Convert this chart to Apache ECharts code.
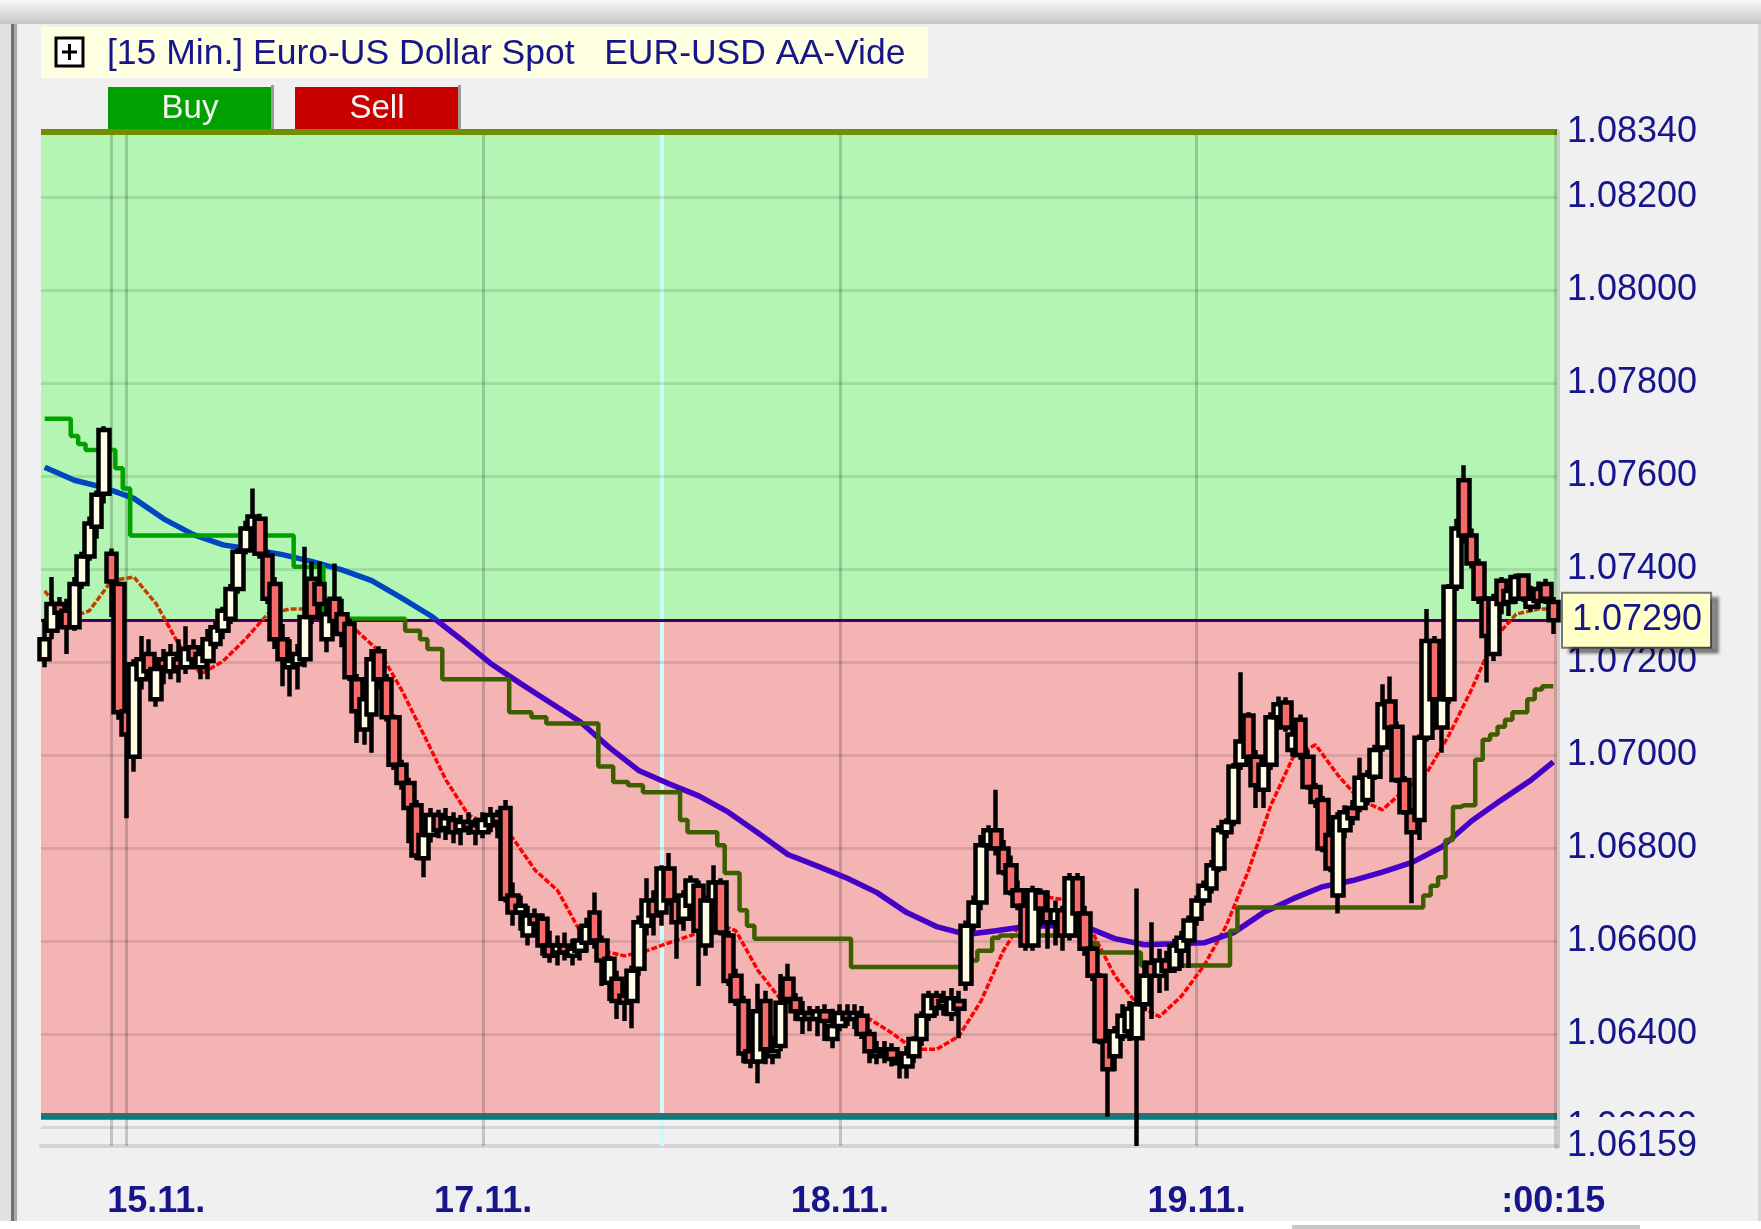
<!DOCTYPE html>
<html>
<head>
<meta charset="utf-8">
<title>[15 Min.] Euro-US Dollar Spot</title>
<script src="https://cdn.jsdelivr.net/npm/echarts@6/dist/echarts.min.js"></script>
<style>
  html, body { margin: 0; padding: 0; background: #f0f0f0; }
  #chart { width: 1761px; height: 1229px; }
</style>
</head>
<body>
<div id="chart"></div>
<script>
// one row per bar: [open, close, low, high]
const candles = [
  [1.07206,1.07249,1.07189,1.07293],[1.07267,1.07325,1.07249,1.07383],[1.07325,1.07306,1.07271,1.07340],[1.07310,1.07275,1.07217,1.07336],[1.07275,1.07368,1.07267,1.07383],
  [1.07368,1.07427,1.07357,1.07437],[1.07427,1.07498,1.07418,1.07513],[1.07491,1.07560,1.07465,1.07569],[1.07562,1.07699,1.07541,1.07707],[1.07433,1.07373,1.07297,1.07444],
  [1.07368,1.07092,1.07076,1.07373],[1.07094,1.07044,1.06864,1.07109],[1.06996,1.07195,1.06964,1.07206],[1.07163,1.07206,1.07141,1.07256],[1.07217,1.07180,1.07163,1.07249],
  [1.07120,1.07185,1.07104,1.07195],[1.07206,1.07189,1.07152,1.07228],[1.07180,1.07217,1.07163,1.07239],[1.07206,1.07189,1.07156,1.07249],[1.07189,1.07228,1.07174,1.07277],
  [1.07232,1.07206,1.07189,1.07249],[1.07189,1.07217,1.07163,1.07232],[1.07202,1.07249,1.07163,1.07271],[1.07239,1.07275,1.07228,1.07288],[1.07267,1.07310,1.07249,1.07319],
  [1.07293,1.07357,1.07282,1.07368],[1.07357,1.07437,1.07347,1.07444],[1.07440,1.07487,1.07431,1.07504],[1.07487,1.07513,1.07465,1.07573],[1.07508,1.07433,1.07422,1.07519],
  [1.07429,1.07336,1.07325,1.07440],[1.07368,1.07249,1.07228,1.07383],[1.07249,1.07206,1.07148,1.07282],[1.07189,1.07202,1.07126,1.07249],[1.07195,1.07217,1.07141,1.07239],
  [1.07206,1.07297,1.07189,1.07448],[1.07379,1.07297,1.07282,1.07416],[1.07368,1.07325,1.07303,1.07416],[1.07249,1.07303,1.07221,1.07336],[1.07336,1.07288,1.07275,1.07412],
  [1.07303,1.07260,1.07232,1.07336],[1.07282,1.07167,1.07159,1.07293],[1.07163,1.07094,1.07026,1.07174],[1.07055,1.07120,1.07022,1.07141],[1.07087,1.07206,1.07005,1.07228],
  [1.07223,1.07163,1.07141,1.07234],[1.07163,1.07081,1.07072,1.07174],[1.07081,1.06979,1.06968,1.07087],[1.06979,1.06940,1.06925,1.06990],[1.06940,1.06886,1.06810,1.06951],
  [1.06892,1.06784,1.06774,1.06903],[1.06778,1.06828,1.06737,1.06838],[1.06828,1.06871,1.06812,1.06886],[1.06871,1.06838,1.06821,1.06882],[1.06843,1.06864,1.06817,1.06886],
  [1.06860,1.06834,1.06810,1.06877],[1.06838,1.06856,1.06806,1.06871],[1.06856,1.06843,1.06828,1.06877],[1.06849,1.06834,1.06806,1.06864],[1.06834,1.06860,1.06821,1.06877],
  [1.06849,1.06871,1.06834,1.06888],[1.06871,1.06856,1.06821,1.06882],[1.06886,1.06691,1.06683,1.06903],[1.06698,1.06661,1.06633,1.06726],[1.06661,1.06676,1.06622,1.06698],
  [1.06612,1.06655,1.06590,1.06676],[1.06655,1.06637,1.06612,1.06670],[1.06648,1.06590,1.06568,1.06659],[1.06590,1.06568,1.06553,1.06622],[1.06575,1.06590,1.06547,1.06612],
  [1.06590,1.06575,1.06558,1.06618],[1.06568,1.06583,1.06547,1.06605],[1.06579,1.06601,1.06558,1.06633],[1.06596,1.06633,1.06575,1.06650],[1.06661,1.06601,1.06583,1.06704],
  [1.06601,1.06558,1.06503,1.06612],[1.06510,1.06562,1.06471,1.06568],[1.06519,1.06471,1.06432,1.06536],[1.06482,1.06467,1.06428,1.06503],[1.06471,1.06536,1.06412,1.06547],
  [1.06540,1.06640,1.06525,1.06655],[1.06633,1.06687,1.06612,1.06735],[1.06687,1.06655,1.06612,1.06709],[1.06661,1.06756,1.06633,1.06763],[1.06756,1.06687,1.06676,1.06789],
  [1.06687,1.06640,1.06562,1.06698],[1.06648,1.06698,1.06622,1.06709],[1.06676,1.06730,1.06655,1.06741],[1.06719,1.06622,1.06503,1.06730],[1.06590,1.06687,1.06568,1.06698],
  [1.06687,1.06726,1.06666,1.06763],[1.06726,1.06618,1.06612,1.06735],[1.06612,1.06514,1.06503,1.06622],[1.06525,1.06471,1.06460,1.06540],[1.06471,1.06358,1.06337,1.06482],
  [1.06363,1.06341,1.06326,1.06385],[1.06341,1.06449,1.06294,1.06508],[1.06471,1.06367,1.06335,1.06493],[1.06352,1.06363,1.06335,1.06395],[1.06374,1.06467,1.06363,1.06529],
  [1.06519,1.06475,1.06464,1.06551],[1.06475,1.06449,1.06428,1.06488],[1.06432,1.06445,1.06400,1.06471],[1.06445,1.06432,1.06406,1.06460],[1.06432,1.06449,1.06395,1.06460],
  [1.06449,1.06428,1.06385,1.06464],[1.06389,1.06417,1.06369,1.06454],[1.06417,1.06445,1.06406,1.06464],[1.06445,1.06432,1.06417,1.06464],[1.06432,1.06445,1.06410,1.06464],
  [1.06439,1.06400,1.06389,1.06460],[1.06400,1.06363,1.06337,1.06410],[1.06363,1.06352,1.06335,1.06385],[1.06358,1.06367,1.06337,1.06385],[1.06367,1.06346,1.06330,1.06380],
  [1.06346,1.06337,1.06304,1.06363],[1.06330,1.06358,1.06304,1.06374],[1.06352,1.06389,1.06337,1.06395],[1.06389,1.06439,1.06374,1.06449],[1.06439,1.06482,1.06428,1.06493],
  [1.06482,1.06456,1.06439,1.06493],[1.06460,1.06471,1.06439,1.06493],[1.06443,1.06477,1.06428,1.06499],[1.06471,1.06454,1.06391,1.06493],[1.06508,1.06633,1.06493,1.06644],
  [1.06633,1.06683,1.06622,1.06698],[1.06683,1.06806,1.06666,1.06828],[1.06806,1.06838,1.06795,1.06849],[1.06838,1.06799,1.06784,1.06925],[1.06799,1.06748,1.06741,1.06817],
  [1.06763,1.06704,1.06698,1.06784],[1.06709,1.06676,1.06666,1.06730],[1.06676,1.06590,1.06579,1.06687],[1.06590,1.06709,1.06579,1.06719],[1.06704,1.06670,1.06633,1.06713],
  [1.06666,1.06640,1.06583,1.06709],[1.06640,1.06666,1.06590,1.06687],[1.06666,1.06612,1.06579,1.06676],[1.06612,1.06735,1.06601,1.06746],[1.06735,1.06659,1.06644,1.06746],
  [1.06659,1.06583,1.06568,1.06676],[1.06583,1.06525,1.06514,1.06590],[1.06525,1.06385,1.06378,1.06531],[1.06385,1.06324,1.06222,1.06395],[1.06352,1.06406,1.06320,1.06417],
  [1.06395,1.06439,1.06385,1.06464],[1.06406,1.06454,1.06385,1.06471],[1.06391,1.06464,1.06159,1.06713],[1.06464,1.06525,1.06449,1.06558],[1.06553,1.06525,1.06432,1.06640],
  [1.06525,1.06558,1.06488,1.06583],[1.06558,1.06536,1.06493,1.06579],[1.06540,1.06590,1.06531,1.06605],[1.06579,1.06607,1.06542,1.06622],[1.06601,1.06644,1.06542,1.06655],
  [1.06648,1.06687,1.06633,1.06698],[1.06687,1.06719,1.06676,1.06730],[1.06713,1.06763,1.06702,1.06774],[1.06756,1.06838,1.06748,1.06849],[1.06834,1.06856,1.06821,1.06864],
  [1.06856,1.06975,1.06847,1.06983],[1.06979,1.07029,1.06968,1.07178],[1.07085,1.06996,1.06990,1.07092],[1.06996,1.06935,1.06886,1.07011],[1.06925,1.06979,1.06886,1.06994],
  [1.06979,1.07081,1.06968,1.07092],[1.07081,1.07109,1.07072,1.07126],[1.07113,1.07059,1.07050,1.07124],[1.07011,1.07044,1.06996,1.07066],[1.07076,1.07000,1.06990,1.07087],
  [1.06996,1.06931,1.06925,1.07011],[1.06931,1.06899,1.06886,1.06940],[1.06903,1.06799,1.06791,1.06912],[1.06828,1.06756,1.06748,1.06838],[1.06698,1.06866,1.06659,1.06877],
  [1.06838,1.06877,1.06821,1.06892],[1.06886,1.06864,1.06849,1.06903],[1.06886,1.06951,1.06877,1.06994],[1.06903,1.06957,1.06892,1.06968],[1.06953,1.07011,1.06946,1.07022],
  [1.07016,1.07109,1.07007,1.07152],[1.07115,1.07059,1.07050,1.07169],[1.07061,1.06946,1.06940,1.07072],[1.06946,1.06877,1.06871,1.06955],[1.06877,1.06834,1.06681,1.06886],
  [1.06860,1.07037,1.06817,1.07044],[1.07037,1.07245,1.07029,1.07314],[1.07245,1.07120,1.07055,1.07256],[1.07059,1.07120,1.07005,1.07130],[1.07120,1.07362,1.07109,1.07368],
  [1.07362,1.07487,1.07353,1.07508],[1.07591,1.07472,1.07455,1.07623],[1.07472,1.07412,1.07401,1.07487],[1.07412,1.07336,1.07325,1.07422],[1.07336,1.07256,1.07156,1.07342],
  [1.07217,1.07336,1.07202,1.07347],[1.07375,1.07325,1.07303,1.07383],[1.07329,1.07353,1.07299,1.07368],[1.07336,1.07383,1.07325,1.07390],[1.07386,1.07336,1.07329,1.07390],
  [1.07319,1.07336,1.07308,1.07364],[1.07357,1.07331,1.07314,1.07373],[1.07368,1.07336,1.07325,1.07379],[1.07329,1.07290,1.07260,1.07340]
];

// slow moving average, [bar, value]
const maSlow = [
  [0,1.07619],[4,1.07591],[8,1.07575],[12,1.07552],[16,1.07508],[20,1.07474],[24,1.07452],[28,1.07442],[32,1.07431],[36,1.07416],
  [40,1.07398],[44,1.07375],[48,1.07338],[52,1.07299],[56,1.07249],[60,1.07197],[64,1.07154],[68,1.07113],[72,1.07072],[76,1.07016],
  [80,1.06966],[84,1.06938],[88,1.06912],[92,1.06877],[96,1.06832],[100,1.06786],[104,1.06761],[108,1.06735],[112,1.06704],[116,1.06661],
  [120,1.06631],[124,1.06614],[128,1.06622],[132,1.06631],[136,1.06633],[140,1.06631],[144,1.06605],[148,1.06592],[152,1.06594],[156,1.06596],
  [160,1.06618],[164,1.06661],[168,1.06691],[172,1.06717],[176,1.06730],[180,1.06748],[184,1.06769],[188,1.06802],[192,1.06858],[196,1.06903],
  [200,1.06946],[203,1.06985]
];

// fast moving average, [bar, value]
const maFast = [
  [0,1.07353],[3,1.07293],[6,1.07310],[9,1.07375],[12,1.07383],[15,1.07325],[18,1.07239],[21,1.07174],[24,1.07202],[27,1.07249],
  [30,1.07303],[33,1.07314],[36,1.07314],[39,1.07306],[42,1.07267],[45,1.07223],[48,1.07141],[51,1.07044],[54,1.06946],[57,1.06871],
  [60,1.06849],[63,1.06821],[66,1.06752],[69,1.06709],[72,1.06622],[75,1.06579],[78,1.06568],[81,1.06579],[84,1.06596],[87,1.06612],
  [90,1.06640],[93,1.06622],[96,1.06536],[99,1.06475],[102,1.06445],[105,1.06439],[108,1.06437],[111,1.06432],[114,1.06402],[117,1.06367],
  [120,1.06367],[123,1.06395],[126,1.06471],[129,1.06579],[132,1.06655],[135,1.06694],[138,1.06687],[141,1.06618],[144,1.06525],[147,1.06464],
  [150,1.06437],[153,1.06482],[156,1.06547],[159,1.06633],[162,1.06752],[165,1.06892],[168,1.06996],[171,1.07022],[174,1.06957],[177,1.06903],
  [180,1.06882],[183,1.06925],[186,1.06962],[189,1.07044],[192,1.07141],[195,1.07249],[198,1.07303],[201,1.07314],[203,1.07314]
];

// trailing stop, one value per bar
const stopLine = [
  1.07723,1.07723,1.07723,1.07723,1.07686,1.07669,1.07656,1.07656,1.07656,1.07656,
  1.07617,1.07573,1.07472,1.07472,1.07472,1.07472,1.07472,1.07472,1.07472,1.07472,
  1.07472,1.07472,1.07472,1.07472,1.07472,1.07472,1.07472,1.07472,1.07472,1.07472,
  1.07472,1.07472,1.07472,1.07472,1.07405,1.07405,1.07405,1.07405,1.07293,1.07293,
  1.07293,1.07293,1.07293,1.07293,1.07293,1.07293,1.07293,1.07293,1.07293,1.07267,
  1.07267,1.07249,1.07228,1.07228,1.07163,1.07163,1.07163,1.07163,1.07163,1.07163,
  1.07163,1.07163,1.07163,1.07092,1.07092,1.07092,1.07081,1.07081,1.07068,1.07068,
  1.07068,1.07068,1.07068,1.07068,1.07068,1.06975,1.06975,1.06942,1.06942,1.06935,
  1.06935,1.06920,1.06920,1.06920,1.06920,1.06920,1.06860,1.06834,1.06834,1.06834,
  1.06834,1.06806,1.06746,1.06746,1.06666,1.06633,1.06605,1.06605,1.06605,1.06605,
  1.06605,1.06605,1.06605,1.06605,1.06605,1.06605,1.06605,1.06605,1.06605,1.06544,
  1.06544,1.06544,1.06544,1.06544,1.06544,1.06544,1.06544,1.06544,1.06544,1.06544,
  1.06544,1.06544,1.06544,1.06544,1.06544,1.06558,1.06579,1.06579,1.06607,1.06612,
  1.06612,1.06612,1.06612,1.06612,1.06612,1.06612,1.06612,1.06612,1.06612,1.06612,
  1.06612,1.06596,1.06575,1.06575,1.06575,1.06575,1.06575,1.06575,1.06547,1.06547,
  1.06547,1.06547,1.06547,1.06547,1.06547,1.06547,1.06547,1.06547,1.06547,1.06547,
  1.06622,1.06672,1.06672,1.06672,1.06672,1.06672,1.06672,1.06672,1.06672,1.06672,
  1.06672,1.06672,1.06672,1.06672,1.06672,1.06672,1.06672,1.06672,1.06672,1.06672,
  1.06672,1.06672,1.06672,1.06672,1.06672,1.06672,1.06698,1.06719,1.06737,1.06817,
  1.06888,1.06892,1.06892,1.06990,1.07033,1.07044,1.07061,1.07076,1.07092,1.07092,
  1.07120,1.07141,1.07148,1.07148
];

const yTickValues = [1.0834, 1.082, 1.080, 1.078, 1.076, 1.074, 1.072, 1.070, 1.068, 1.066, 1.064, 1.062, 1.06159];
const yTickLabels = ['1.08340', '1.08200', '1.08000', '1.07800', '1.07600', '1.07400', '1.07200', '1.07000', '1.06800', '1.06600', '1.06400', '1.06200', '1.06159'];
const xTickIndex = [15, 59, 107, 155, 203];
const xTickLabels = ['15.11.', '17.11.', '18.11.', '19.11.', ':00:15'];
const dayLines = [9, 11, 59, 107, 155];
const cursorBar = 83;
const lastPrice = 1.0729;
const lastPriceLabel = '1.07290';
const supportTop = 1.06227;
const supportBottom = 1.06219;

const font = '"Liberation Sans", Arial, sans-serif';
const navy = '#16168a';
const categories = candles.map((c, i) => String(i));

const chart = echarts.init(document.getElementById('chart'));

const hLines = yTickValues.map((v, i) => {
  const item = {
    yAxis: v,
    lineStyle: { color: 'rgba(0,0,0,0.1)', width: 3, type: 'solid' },
    label: { show: true, position: 'end', distance: 10, formatter: yTickLabels[i], color: navy, fontSize: 36, fontFamily: font }
  };
  if (i === 0) {
    item.lineStyle = { color: '#6f8f00', width: 6, type: 'solid' };
  } else if (i === yTickValues.length - 1) {
    item.lineStyle = { color: 'rgba(0,0,0,0)', width: 1 };
    item.label.backgroundColor = '#f0f0f0';
    item.label.padding = [11, 6, 11, 0];
  }
  return item;
});

const vLines = dayLines.map(i => ({
  xAxis: i,
  lineStyle: { color: 'rgba(0,0,0,0.18)', width: 3, type: 'solid' },
  label: { show: false }
}));
vLines.push({ xAxis: cursorBar, lineStyle: { color: '#cdfafa', width: 4, type: 'solid' }, label: { show: false } });

const extraLines = [
  { yAxis: supportTop, lineStyle: { color: '#3e6a6a', width: 4, type: 'solid' }, label: { show: false } },
  { yAxis: supportBottom, lineStyle: { color: '#008080', width: 3.5, type: 'solid' }, label: { show: false } },
  {
    yAxis: lastPrice,
    lineStyle: { color: '#44005c', width: 3, type: 'solid' },
    label: {
      show: true, position: 'end', distance: 6, formatter: lastPriceLabel,
      color: navy, fontSize: 36, fontFamily: font,
      backgroundColor: '#ffffc6', borderColor: '#767676', borderWidth: 2,
      padding: [9, 8, 8, 9],
      shadowColor: 'rgba(0,0,0,0.4)', shadowOffsetX: 7, shadowOffsetY: 5, shadowBlur: 3
    }
  }
];

// colour of a line above / below the last price (finite bounds so the gradient has stops)
const zonePieces = (above, below) => [
  { gt: lastPrice, lte: 1.1, color: above },
  { gt: 1.05, lte: lastPrice, color: below }
];

const option = {
  animation: false,
  backgroundColor: '#f0f0f0',
  grid: { left: 41, right: 204, top: 132, bottom: 83, containLabel: false, outerBoundsMode: 'none' },
  xAxis: {
    type: 'category',
    data: categories,
    boundaryGap: true,
    axisLine: { show: true, onZero: false, lineStyle: { color: '#d4d4d4', width: 4 } },
    axisTick: { show: false },
    splitLine: { show: false },
    axisLabel: {
      interval: (i) => xTickIndex.includes(i),
      formatter: (v, i) => { const k = xTickIndex.indexOf(i); return k >= 0 ? xTickLabels[k] : ''; },
      fontSize: 36, fontWeight: 'bold', fontFamily: font, color: navy, margin: 38
    }
  },
  yAxis: {
    type: 'value',
    min: yTickValues[yTickValues.length - 1],
    max: yTickValues[0],
    position: 'right',
    z: 6,
    axisLine: { show: true, lineStyle: { color: 'rgba(0,0,0,0.15)', width: 6 } },
    axisTick: { show: false },
    axisLabel: { show: false },
    splitLine: { show: false }
  },
  visualMap: [
    { type: 'piecewise', show: false, seriesIndex: 2, dimension: 1, pieces: zonePieces('#0046be', '#4400c4') },
    { type: 'piecewise', show: false, seriesIndex: 3, dimension: 1, pieces: zonePieces('#00a000', '#3d5f00') },
    { type: 'piecewise', show: false, seriesIndex: 4, dimension: 1, pieces: zonePieces('#c04000', '#ff0000') }
  ],
  series: [
    {
      type: 'line',
      data: [],
      clip: false,
      silent: true,
      markArea: {
        silent: true,
        label: { show: false },
        data: [
          [{ yAxis: lastPrice, itemStyle: { color: '#b3f5b3', opacity: 1 } }, { yAxis: yTickValues[0] }],
          [{ yAxis: supportTop, itemStyle: { color: '#f4b4b4', opacity: 1 } }, { yAxis: lastPrice }]
        ]
      },
      markLine: {
        silent: true,
        precision: 6,
        symbol: ['none', 'none'],
        label: { show: false },
        emphasis: { disabled: true },
        data: [...vLines, ...hLines, ...extraLines]
      }
    },
    {
      type: 'candlestick',
      data: candles,
      z: 10,
      barWidth: 11,
      silent: true,
      itemStyle: { color: '#fffde6', color0: '#f76b6b', borderColor: '#000000', borderColor0: '#000000', borderWidth: 4.5 }
    },
    { type: 'line', data: maSlow, z: 8, showSymbol: false, silent: true, lineStyle: { width: 5.5 } },
    { type: 'line', data: stopLine.map((v, i) => [i, v]), step: 'middle', z: 9, showSymbol: false, silent: true, lineStyle: { width: 4.5 } },
    { type: 'line', data: maFast, z: 7, showSymbol: false, silent: true, lineStyle: { width: 3.5, type: [6, 2] } }
  ],
  graphic: [
    { type: 'rect', silent: true, shape: { x: 0, y: 0, width: 1761, height: 24 },
      style: { fill: new echarts.graphic.LinearGradient(0, 0, 0, 1, [{ offset: 0, color: '#f8f8f8' }, { offset: 1, color: '#c6c6c6' }]) } },
    { type: 'rect', silent: true, shape: { x: 0, y: 24, width: 11, height: 1197 }, style: { fill: '#e2e2e2' } },
    { type: 'rect', silent: true, shape: { x: 11, y: 24, width: 3, height: 1197 }, style: { fill: '#707070' } },
    { type: 'rect', silent: true, shape: { x: 14, y: 24, width: 3, height: 1197 }, style: { fill: '#a8a8a8' } },
    { type: 'rect', silent: true, shape: { x: 1758, y: 24, width: 3, height: 1197 }, style: { fill: '#d6d6d6' } },
    { type: 'rect', silent: true, shape: { x: 0, y: 1221, width: 1761, height: 8 }, style: { fill: '#ffffff' } },
    { type: 'rect', silent: true, shape: { x: 1292, y: 1225, width: 348, height: 4 }, style: { fill: '#c8c8c8' } },

    { type: 'rect', silent: true, shape: { x: 41, y: 27, width: 887, height: 51 }, style: { fill: '#fefee0' } },
    { type: 'rect', silent: true, shape: { x: 56, y: 38, width: 27, height: 28 }, style: { fill: '#ffffff', stroke: '#000000', lineWidth: 3 } },
    { type: 'line', silent: true, shape: { x1: 62, y1: 52, x2: 77, y2: 52 }, style: { stroke: '#000000', lineWidth: 3 } },
    { type: 'line', silent: true, shape: { x1: 69.5, y1: 44, x2: 69.5, y2: 60 }, style: { stroke: '#000000', lineWidth: 3 } },
    { type: 'text', silent: true, x: 107, y: 54,
      style: { text: '[15 Min.] Euro-US Dollar Spot   EUR-USD AA-Vide', font: '35.5px ' + font, fill: navy, align: 'left', textAlign: 'left', verticalAlign: 'middle', textVerticalAlign: 'middle' } },

    { type: 'rect', silent: true, shape: { x: 108, y: 87, width: 164, height: 42 }, style: { fill: '#00a000' } },
    { type: 'rect', silent: true, shape: { x: 271, y: 85, width: 3, height: 44 }, style: { fill: '#9a9a9a' } },
    { type: 'text', silent: true, x: 190, y: 109,
      style: { text: 'Buy', font: '33px ' + font, fill: '#f4f4f4', align: 'center', textAlign: 'center', verticalAlign: 'middle', textVerticalAlign: 'middle' } },
    { type: 'rect', silent: true, shape: { x: 295, y: 87, width: 164, height: 42 }, style: { fill: '#c80000' } },
    { type: 'rect', silent: true, shape: { x: 458, y: 85, width: 3, height: 44 }, style: { fill: '#9a9a9a' } },
    { type: 'text', silent: true, x: 377, y: 109,
      style: { text: 'Sell', font: '33px ' + font, fill: '#f4f4f4', align: 'center', textAlign: 'center', verticalAlign: 'middle', textVerticalAlign: 'middle' } }
  ]
};

chart.setOption(option);
</script>
</body>
</html>
